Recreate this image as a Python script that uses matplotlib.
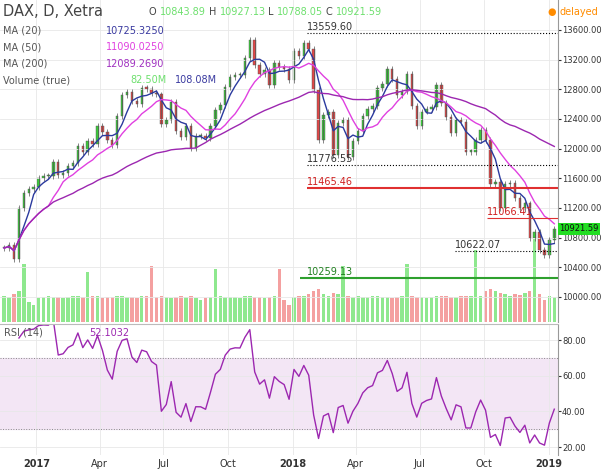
import numpy as np
import pandas as pd
import matplotlib
matplotlib.use("Agg")
from matplotlib import pyplot as plt
import matplotlib.dates as mdates

# weekly closes (Fridays from 2016-11-18)
weeks = pd.date_range("2016-11-18", periods=113, freq="W-FRI")
close = [10660, 10700, 10510, 11200, 11400, 11450, 11480,
         11600, 11630, 11630, 11815, 11650, 11670, 11760, 11800,
         12030, 11960, 12100, 12060, 12310, 12230, 12110, 12050, 12440,
         12720, 12770, 12640, 12600, 12820, 12810, 12750, 12730, 12330,
         12390, 12630, 12240, 12160, 12300, 12010, 12170, 12170,
         12140, 12300, 12520, 12590, 12830, 12960, 12990, 12990, 13220,
         13470, 13130, 13000, 13060, 12860, 13150, 13100, 13070, 12920,
         13320, 13250, 13430, 13340, 12790, 12110, 12450, 12490,
         11910, 12350, 12390, 11890, 12100, 12240, 12440, 12540, 12580,
         12820, 12870, 13080, 12940, 12720, 12770, 13010, 12580, 12310,
         12500, 12540, 12560, 12860, 12620, 12420, 12210, 12390, 12360,
         11960, 11960, 12120, 12250, 12110, 11520, 11550, 11200,
         11520, 11530, 11340, 11190, 11260, 10790, 10870, 10630, 10560,
         10770, 10920]
volume = [95, 90, 100, 110, 210, 70, 60,
          85, 90, 95, 90, 88, 85, 90, 92,
          95, 90, 180, 95, 92, 85, 88, 90, 95,
          92, 90, 88, 85, 92, 95, 200, 90, 95,
          90, 85, 88, 92, 90, 95, 85, 80,
          85, 88, 190, 92, 90, 88, 90, 85, 95,
          92, 90, 88, 85, 90, 92, 190, 80, 60,
          90, 95, 92, 100, 110, 120, 100, 95,
          105, 100, 200, 95, 90, 92, 90, 88, 95,
          92, 90, 88, 85, 90, 92, 210, 95, 90,
          88, 85, 90, 95, 92, 95, 90, 88, 92,
          95, 92, 260, 95, 110, 120, 110, 105,
          100, 95, 100, 98, 105, 110, 300, 100, 80,
          95, 90]
levels = {"13559.60": 13559.60, "11776.55": 11776.55, "11465.46": 11465.46,
          "11066.41": 11066.41, "10622.07": 10622.07, "10259.13": 10259.13}

s = pd.Series(close, index=weeks)
opn = s.shift(1).fillna(s.iloc[0])
ma20 = s.rolling(4, min_periods=1).mean()
ma50 = s.rolling(10, min_periods=1).mean()
ma200 = s.rolling(40, min_periods=1).mean()
d = s.diff().iloc[1:]
up = d.clip(lower=0).ewm(alpha=1 / 7).mean()
dn = (-d.clip(upper=0)).ewm(alpha=1 / 7).mean()
rsi = 100 - 100 / (1 + up / (dn + 1.0))
rsi = rsi.iloc[2:]

x = mdates.date2num(weeks - pd.Timedelta(days=2))
xr = mdates.date2num(rsi.index - pd.Timedelta(days=2))
xl = mdates.date2num([pd.Timestamp("2016-11-10"), pd.Timestamp("2019-01-14")])

fig = plt.figure(figsize=(6.05, 4.72), dpi=100)
ax = fig.add_axes([0, 0.318, 0.922, 0.682])
ax2 = fig.add_axes([0, 0.036, 0.922, 0.275])
grid = "#e8e8e8"

# volume on twin axis
axv = ax.twinx()
vcol = ["#8ee88e" if c >= o else "#f4a0a0" for c, o in zip(close, opn)]
axv.bar(x, volume, width=5, color=vcol, zorder=1)
axv.set_ylim(0, 1160)
axv.axis("off")
ax.set_zorder(axv.get_zorder() + 1)
ax.patch.set_visible(False)

for xi, o, c in zip(x, opn, close):
    col = "#3cc83c" if c >= o else "#e04848"
    ax.vlines(xi, min(o, c) - 40, max(o, c) + 40, color="#555555", lw=0.5)
    ax.bar(xi, max(abs(c - o), 15), bottom=min(o, c), width=3.5, color=col,
           edgecolor="#555555", lw=0.3)
ax.plot(x, ma20, color="#2b3a9e", lw=1)
ax.plot(x, ma50, color="#e040e0", lw=1)
ax.plot(x, ma200, color="#9c27b0", lw=1)

def xd(s_):
    return mdates.date2num(pd.Timestamp(s_))

x0 = xd("2018-01-22")
ax.hlines(levels["13559.60"], x0, xl[1], colors="k", linestyles=":", lw=0.8)
ax.text(x0, levels["13559.60"] + 40, "13559.60", fontsize=7, color="#333333")
ax.hlines(levels["11776.55"], x0, xl[1], colors="k", linestyles=":", lw=0.8)
ax.text(x0, levels["11776.55"] + 40, "11776.55", fontsize=7, color="#333333")
ax.hlines(levels["11465.46"], x0, xl[1], colors="#e03030", lw=1.5)
ax.text(x0, levels["11465.46"] + 40, "11465.46", fontsize=7, color="#d02020")
ax.hlines(levels["11066.41"], xd("2018-10-05"), xl[1], colors="#e03030", lw=0.8)
ax.text(xd("2018-10-05"), levels["11066.41"] + 40, "11066.41", fontsize=7, color="#d02020")
ax.hlines(levels["10622.07"], xd("2018-08-20"), xl[1], colors="k", linestyles=":", lw=0.8)
ax.text(xd("2018-08-20"), levels["10622.07"] + 40, "10622.07", fontsize=7, color="#333333")
ax.hlines(levels["10259.13"], x0 - 10, xl[1], colors="#2ea02e", lw=1.5)
ax.text(x0, levels["10259.13"] + 40, "10259.13", fontsize=7, color="#208020")

ax.set_xlim(xl)
ax.set_ylim(9663, 14004)
ax.yaxis.tick_right()
ax.set_yticks(np.arange(10000, 13700, 400))
ax.yaxis.set_major_formatter(matplotlib.ticker.FormatStrFormatter("%.2f"))
ax.tick_params(axis="y", labelsize=6, colors="#333333", length=2, pad=1)
ax.tick_params(axis="x", length=0, labelbottom=False)
ticks = mdates.date2num(pd.to_datetime(["2017-01-01", "2017-04-01", "2017-07-01", "2017-10-01",
                                        "2018-01-01", "2018-04-01", "2018-07-01", "2018-10-01",
                                        "2019-01-01"]))
ax.set_xticks(ticks)
ax.grid(color=grid, lw=0.6)
for sp in ["top", "left", "bottom"]:
    ax.spines[sp].set_visible(False)
ax.spines["right"].set_color("#999999")

ax.text(xl[1] + 2, close[-1], "10921.59", fontsize=6, va="center", color="#111111",
        bbox=dict(boxstyle="square,pad=0.2", fc="#22dd22", ec="none"))

# legend text
fig.text(0.005, 0.975, "DAX, D, Xetra", fontsize=10.5, color="#444444", va="center")
fig.text(0.245, 0.975, "O", fontsize=7, color="#444444", va="center")
fig.text(0.265, 0.975, "10843.89", fontsize=7, color="#6ee06e", va="center")
fig.text(0.345, 0.975, "H", fontsize=7, color="#444444", va="center")
fig.text(0.363, 0.975, "10927.13", fontsize=7, color="#6ee06e", va="center")
fig.text(0.443, 0.975, "L", fontsize=7, color="#444444", va="center")
fig.text(0.458, 0.975, "10788.05", fontsize=7, color="#6ee06e", va="center")
fig.text(0.538, 0.975, "C", fontsize=7, color="#444444", va="center")
fig.text(0.555, 0.975, "10921.59", fontsize=7, color="#6ee06e", va="center")
rows = [("MA (20)", "10725.3250", "#3a3aa0"), ("MA (50)", "11090.0250", "#e040e0"),
        ("MA (200)", "12089.2690", "#a030c0")]
for i, (nm, v, c) in enumerate(rows):
    yy = 0.935 - i * 0.035
    fig.text(0.005, yy, nm, fontsize=7, color="#555555", va="center")
    fig.text(0.175, yy, v, fontsize=7, color=c, va="center")
fig.text(0.005, 0.83, "Volume (true)", fontsize=7, color="#555555", va="center")
fig.text(0.215, 0.83, "82.50M", fontsize=7, color="#6ee06e", va="center")
fig.text(0.29, 0.83, "108.08M", fontsize=7, color="#3a3aa0", va="center")
fig.text(0.905, 0.975, "\u25cf", fontsize=7, color="#ff8c00", va="center")
fig.text(0.925, 0.975, "delayed", fontsize=7, color="#ff8c00", va="center")

# RSI panel
ax2.axhspan(30, 70, color="#f3e6f5")
ax2.axhline(70, color="#888888", ls=":", lw=0.7)
ax2.axhline(30, color="#888888", ls=":", lw=0.7)
ax2.plot(xr, rsi, color="#9c27b0", lw=1)
ax2.set_xlim(xl)
ax2.set_ylim(15.5, 88.5)
ax2.yaxis.tick_right()
ax2.set_yticks([20, 40, 60, 80])
ax2.yaxis.set_major_formatter(matplotlib.ticker.FormatStrFormatter("%.2f"))
ax2.tick_params(axis="y", labelsize=6, colors="#333333", length=2, pad=1)
ax2.set_xticks(ticks)
ax2.set_xticklabels(["2017", "Apr", "Jul", "Oct", "2018", "Apr", "Jul", "Oct", "2019"])
for lab in ax2.get_xticklabels():
    if lab.get_text().isdigit():
        lab.set_fontweight("bold")
ax2.tick_params(axis="x", labelsize=7, colors="#333333", length=0, pad=3)
ax2.grid(color=grid, lw=0.6)
for sp in ["top", "left", "bottom"]:
    ax2.spines[sp].set_visible(False)
ax2.spines["right"].set_color("#999999")
ax2.text(0.008, 0.92, "RSI (14)", transform=ax2.transAxes, fontsize=7, color="#555555")
ax2.text(0.16, 0.92, "52.1032", transform=ax2.transAxes, fontsize=7, color="#9c27b0")
fig.add_artist(plt.Line2D([0, 0.922], [0.314, 0.314], color="#bbbbbb", lw=0.8))

fig.savefig("out.png", dpi=100)
